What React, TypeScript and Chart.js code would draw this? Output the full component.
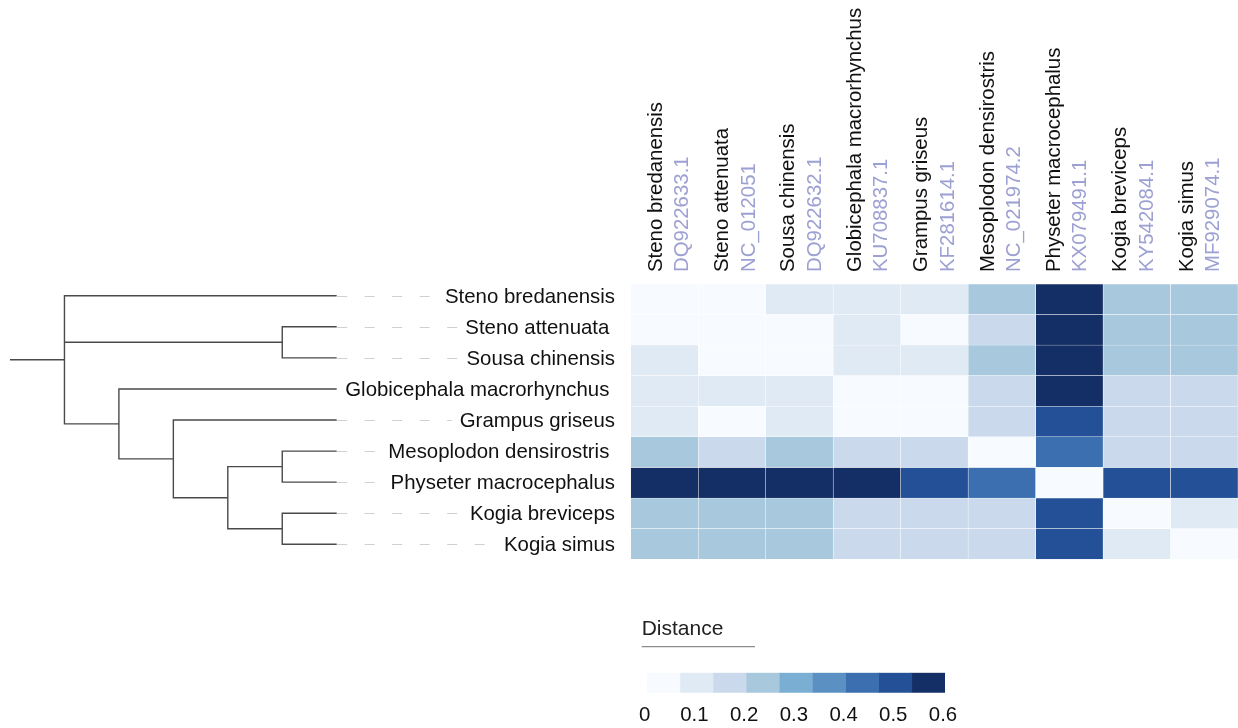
import { useEffect, useRef } from "react";
import { Chart, registerables } from "chart.js";
Chart.register(...registerables);

const FONT = '"Liberation Sans", Arial, Helvetica, sans-serif';
const FS = 20.4;

// species in row / column order
const species = [
  "Steno bredanensis",
  "Steno attenuata",
  "Sousa chinensis",
  "Globicephala macrorhynchus",
  "Grampus griseus",
  "Mesoplodon densirostris",
  "Physeter macrocephalus",
  "Kogia breviceps",
  "Kogia simus",
];
const rowLabels = [
  "Steno bredanensis",
  "Steno attenuata ",
  "Sousa chinensis",
  "Globicephala macrorhynchus ",
  "Grampus griseus",
  "Mesoplodon densirostris ",
  "Physeter macrocephalus",
  "Kogia breviceps",
  "Kogia simus",
];
const accessions = [
  "DQ922633.1",
  "NC_012051",
  "DQ922632.1",
  "KU708837.1",
  "KF281614.1",
  "NC_021974.2",
  "KX079491.1",
  "KY542084.1",
  "MF929074.1",
];

// pairwise distance rows
const distStenoBred = [0.0, 0.05, 0.09, 0.1, 0.09, 0.23, 0.57, 0.24, 0.24];
const distStenoAtt = [0.05, 0.0, 0.04, 0.09, 0.06, 0.18, 0.57, 0.23, 0.23];
const distSousa = [0.09, 0.04, 0.0, 0.09, 0.08, 0.22, 0.56, 0.23, 0.23];
const distGlobi = [0.1, 0.09, 0.09, 0.0, 0.03, 0.17, 0.55, 0.18, 0.18];
const distGrampus = [0.09, 0.06, 0.08, 0.03, 0.0, 0.16, 0.52, 0.17, 0.17];
const distMeso = [0.23, 0.18, 0.22, 0.17, 0.16, 0.0, 0.44, 0.19, 0.19];
const distPhyseter = [0.57, 0.57, 0.56, 0.55, 0.52, 0.44, 0.0, 0.5, 0.51];
const distKogiaB = [0.24, 0.23, 0.23, 0.18, 0.17, 0.19, 0.5, 0.0, 0.08];
const distKogiaS = [0.24, 0.23, 0.23, 0.18, 0.17, 0.19, 0.51, 0.08, 0.0];
const distances = [
  distStenoBred,
  distStenoAtt,
  distSousa,
  distGlobi,
  distGrampus,
  distMeso,
  distPhyseter,
  distKogiaB,
  distKogiaS,
];

// legend (color bins)
const legendBreaks = [0, 0.0667, 0.1333, 0.2, 0.2667, 0.3333, 0.4, 0.4667, 0.5333, 0.6];
const legendColors = [
  "#f7fbff",
  "#e0eaf5",
  "#cadaec",
  "#a7c8dd",
  "#7aaed2",
  "#5a90c2",
  "#3c6fb0",
  "#235097",
  "#142e66",
];
const legendTicks = [0, 0.1, 0.2, 0.3, 0.4, 0.5, 0.6];
const legendTickLabels = ["0", "0.1", "0.2", "0.3", "0.4", "0.5", "0.6"];

// dendrogram (cladogram): internal nodes, children listed top to bottom
const treeNodeIds = ["A", "B", "C", "D", "E", "F", "R"];
const treeNodeDepth = [4, 4, 4, 3, 2, 1, 0];
const treeNodeChildren = [
  ["L1", "L2"],
  ["L5", "L6"],
  ["L7", "L8"],
  ["B", "C"],
  ["L4", "D"],
  ["L3", "E"],
  ["L0", "A", "F"],
];
const leafDepth = 5;
const stemDepth = -1;

function binColor(v: number) {
  for (let i = 0; i < legendColors.length; i++) {
    if (v < legendBreaks[i + 1]) return legendColors[i];
  }
  return legendColors[legendColors.length - 1];
}

function buildTree() {
  const pos: Record<string, { d: number; y: number }> = {};
  species.forEach((_, i) => (pos["L" + i] = { d: leafDepth, y: i }));
  const segs: { x: number; y: number }[][] = [];
  treeNodeIds.forEach((id, k) => {
    const kids = treeNodeChildren[k].map((c) => pos[c]);
    const first = kids[0];
    const last = kids[kids.length - 1];
    const d = treeNodeDepth[k];
    pos[id] = { d, y: (first.y + last.y) / 2 };
    segs.push([
      { x: first.d, y: first.y },
      { x: d, y: first.y },
      { x: d, y: last.y },
      { x: last.d, y: last.y },
    ]);
    kids.slice(1, -1).forEach((c) =>
      segs.push([
        { x: d, y: c.y },
        { x: c.d, y: c.y },
      ])
    );
  });
  const root = pos[treeNodeIds[treeNodeIds.length - 1]];
  segs.push([
    { x: stemDepth, y: root.y },
    { x: root.d, y: root.y },
  ]);
  return segs;
}

const LABEL_RIGHT = 615;

export default function App() {
  const denRef = useRef<HTMLCanvasElement | null>(null);
  const heatRef = useRef<HTMLCanvasElement | null>(null);
  const legRef = useRef<HTMLCanvasElement | null>(null);

  useEffect(() => {
    const charts: Chart[] = [];

    // ---------- dendrogram + row labels ----------
    const segs = buildTree();
    const rowLabelPlugin = {
      id: "rowLabels",
      afterDraw(chart: any) {
        const { ctx } = chart;
        const xs = chart.scales.x;
        const ys = chart.scales.y;
        ctx.save();
        ctx.font = `${FS}px ${FONT}`;
        rowLabels.forEach((lab, i) => {
          const y = ys.getPixelForValue(i);
          ctx.textAlign = "right";
          ctx.textBaseline = "alphabetic";
          ctx.fillStyle = "#111";
          ctx.fillText(lab, LABEL_RIGHT, y + 7);
          const w = ctx.measureText(lab).width;
          const start = LABEL_RIGHT - w;
          const x0 = xs.getPixelForValue(leafDepth);
          if (start - 8 > x0) {
            ctx.setLineDash([10, 17.5]);
            ctx.strokeStyle = "#d0d0d0";
            ctx.lineWidth = 1;
            ctx.beginPath();
            ctx.moveTo(x0 + 0.5, Math.round(y) + 0.5);
            ctx.lineTo(start - 8, Math.round(y) + 0.5);
            ctx.stroke();
            ctx.setLineDash([]);
          }
        });
        ctx.restore();
      },
    };
    if (denRef.current) {
      charts.push(
        new Chart(denRef.current, {
          type: "scatter",
          data: {
            datasets: segs.map((s) => ({
              data: s,
              showLine: true,
              borderColor: "#4a4a4a",
              borderWidth: 1.4,
              pointRadius: 0,
              tension: 0,
              borderJoinStyle: "miter" as const,
              clip: false as any,
            })),
          },
          options: {
            animation: false,
            responsive: false,
            events: [],
            layout: { padding: { left: 10, right: 293.3, top: 295.7, bottom: 183.7 } },
            scales: {
              x: { type: "linear", min: stemDepth, max: leafDepth, display: false },
              y: { type: "linear", min: 0, max: species.length - 1, reverse: true, display: false },
            },
            plugins: { legend: { display: false }, tooltip: { enabled: false } },
          },
          plugins: [rowLabelPlugin],
        })
      );
    }

    // ---------- heatmap + column labels ----------
    const colLabelPlugin = {
      id: "colLabels",
      afterDraw(chart: any) {
        const { ctx } = chart;
        const xs = chart.scales.x;
        ctx.save();
        ctx.font = `${FS}px ${FONT}`;
        ctx.textAlign = "left";
        ctx.textBaseline = "alphabetic";
        const drawRot = (t: string, x: number, y: number, color: string) => {
          ctx.save();
          ctx.translate(x, y);
          ctx.rotate(-Math.PI / 2);
          ctx.fillStyle = color;
          ctx.fillText(t, 0, 0);
          ctx.restore();
        };
        species.forEach((name, j) => {
          const left = xs.getPixelForValue(j);
          const bx = left + 31 - j * 1.1;
          drawRot(name, bx, 272, "#111");
          drawRot(accessions[j], bx + 26.5, 272, "#9da0d2");
        });
        ctx.restore();
      },
    };
    if (heatRef.current) {
      charts.push(
        new Chart(heatRef.current, {
          type: "bar",
          data: {
            labels: species,
            datasets: species.map((_, j) => ({
              label: species[j],
              data: species.map(() => 1),
              backgroundColor: species.map((_, i) => binColor(distances[i][j])),
              borderColor: "#ffffff",
              borderWidth: 0.5,
              borderSkipped: false as any,
              barPercentage: 1,
              categoryPercentage: 1,
            })),
          },
          options: {
            indexAxis: "y",
            animation: false,
            responsive: false,
            events: [],
            layout: { padding: { left: 30.7, right: 0, top: 284, bottom: 168.7 } },
            scales: {
              x: { type: "linear", stacked: true, min: 0, max: species.length, display: false },
              y: { type: "category", stacked: true, display: false },
            },
            plugins: { legend: { display: false }, tooltip: { enabled: false } },
          },
          plugins: [colLabelPlugin],
        })
      );
    }

    // ---------- legend colour bar ----------
    const legTextPlugin = {
      id: "legText",
      afterDraw(chart: any) {
        const { ctx } = chart;
        const xs = chart.scales.x;
        ctx.save();
        ctx.font = `21px ${FONT}`;
        ctx.fillStyle = "#222";
        ctx.textAlign = "left";
        ctx.textBaseline = "alphabetic";
        ctx.fillText("Distance", 21.7, 35);
        ctx.strokeStyle = "#8c8c8c";
        ctx.lineWidth = 1.2;
        ctx.beginPath();
        ctx.moveTo(21.7, 46.7);
        ctx.lineTo(135, 46.7);
        ctx.stroke();
        // tick labels of the colour bar
        ctx.font = `${FS}px ${FONT}`;
        ctx.fillStyle = "#111";
        ctx.textAlign = "center";
        legendTicks.forEach((v, i) => {
          ctx.fillText(legendTickLabels[i], xs.getPixelForValue(v) - 2, 120.5);
        });
        ctx.restore();
      },
    };
    if (legRef.current) {
      charts.push(
        new Chart(legRef.current, {
          type: "bar",
          data: {
            labels: ["Distance"],
            datasets: legendColors.map((c, i) => ({
              data: [[legendBreaks[i], legendBreaks[i + 1]]] as any,
              backgroundColor: c,
              borderWidth: 0,
              grouped: false,
              barPercentage: 1,
              categoryPercentage: 1,
            })),
          },
          options: {
            indexAxis: "y",
            animation: false,
            responsive: false,
            events: [],
            layout: { padding: { left: 26.7, right: 35, top: 72.7, bottom: 35.3 } },
            scales: {
              x: {
                type: "linear",
                min: legendTicks[0],
                max: legendTicks[legendTicks.length - 1],
                display: false,
              },
              y: { display: false },
            },
            plugins: { legend: { display: false }, tooltip: { enabled: false } },
          },
          plugins: [legTextPlugin],
        })
      );
    }

    return () => charts.forEach((c) => c.destroy());
  }, []);

  return (
    <div
      style={{
        position: "fixed",
        left: 0,
        top: 0,
        width: 1238,
        height: 728,
        overflow: "hidden",
        background: "#ffffff",
      }}
    >
      <canvas
        ref={denRef}
        width={630}
        height={728}
        style={{ position: "absolute", left: 0, top: 0, width: 630, height: 728 }}
      />
      <canvas
        ref={heatRef}
        width={638}
        height={728}
        style={{ position: "absolute", left: 600, top: 0, width: 638, height: 728 }}
      />
      <canvas
        ref={legRef}
        width={360}
        height={128}
        style={{ position: "absolute", left: 620, top: 600, width: 360, height: 128 }}
      />
    </div>
  );
}
